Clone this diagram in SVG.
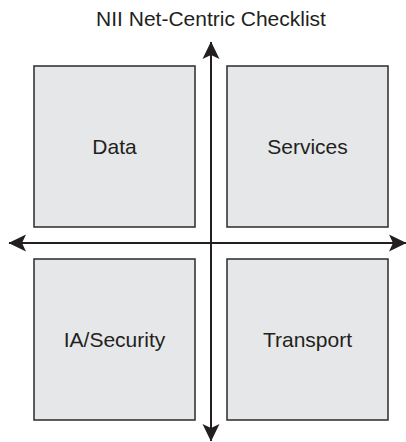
<svg xmlns="http://www.w3.org/2000/svg" width="406" height="442" viewBox="0 0 406 442">
  <style>
    .box { fill: #e6e7e8; stroke: #2b2b2b; stroke-width: 1.5; }
    .label { font-family: "Liberation Sans", Arial, sans-serif; font-size: 21px; fill: #231f20; text-anchor: middle; }
    .axis { stroke: #231f20; stroke-width: 2; fill: none; }
  </style>
  <defs>
    <marker id="head" markerUnits="userSpaceOnUse" viewBox="-19 -10 20 20" refX="0" refY="0" markerWidth="20" markerHeight="20" orient="auto-start-reverse">
      <path d="M0.5,0 L-17,-8.5 L-13,0 L-17,8.5 Z" fill="#231f20"/>
    </marker>
  </defs>
  <rect width="406" height="442" fill="#ffffff"/>

  <text class="label" x="211" y="26">NII Net-Centric Checklist</text>

  <g id="data">
    <rect class="box" x="34" y="66" width="161" height="161"/>
    <text class="label" x="114.5" y="154">Data</text>
  </g>
  <g id="services">
    <rect class="box" x="227" y="66" width="161" height="161"/>
    <text class="label" x="307.5" y="154">Services</text>
  </g>
  <g id="ia-security">
    <rect class="box" x="34" y="259" width="161" height="161"/>
    <text class="label" x="114.5" y="347">IA/Security</text>
  </g>
  <g id="transport">
    <rect class="box" x="227" y="259" width="161" height="161"/>
    <text class="label" x="307.5" y="347">Transport</text>
  </g>

  <g id="connectors">
    <line class="axis" x1="211" y1="42" x2="211" y2="441" marker-start="url(#head)" marker-end="url(#head)"/>
    <line class="axis" x1="9" y1="243" x2="406" y2="243" marker-start="url(#head)" marker-end="url(#head)"/>
  </g>
</svg>
